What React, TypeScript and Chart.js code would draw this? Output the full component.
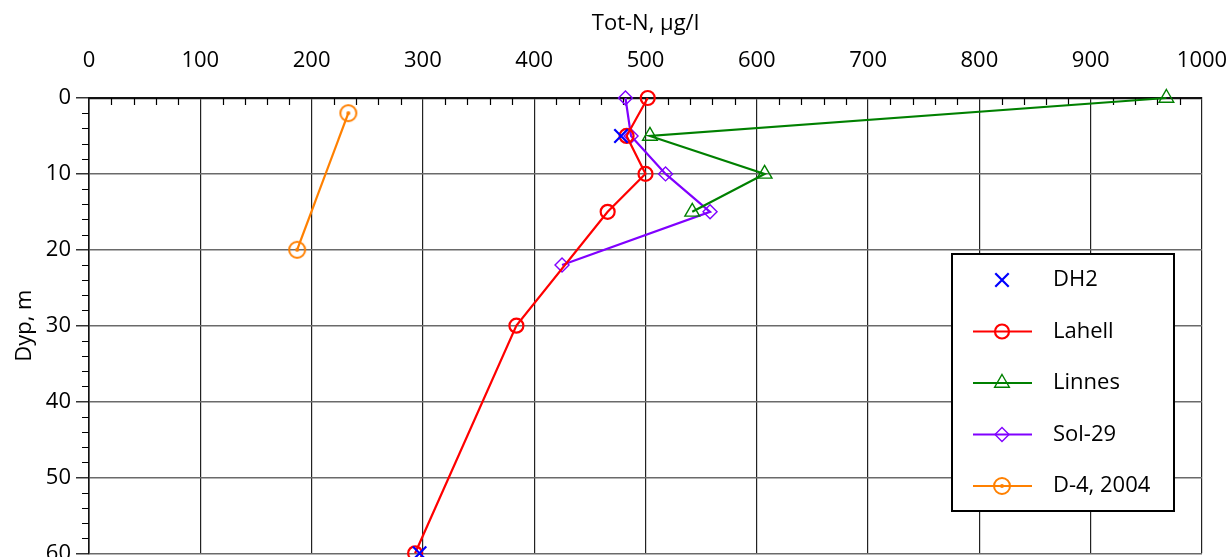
import React, { useEffect, useRef } from "react";
import { Chart, registerables } from "chart.js";
import { drawPoint } from "chart.js/helpers";

Chart.register(...registerables);

// ---- Data ----
const dh2Depth = [5, 60];
const dh2TotN = [478, 297];

const lahellDepth = [0, 5, 10, 15, 30, 60];
const lahellTotN = [502, 483, 500, 466, 384, 293];

const linnesDepth = [0, 5, 10, 15];
const linnesTotN = [968, 504, 607, 542];

const sol29Depth = [0, 5, 10, 15, 22];
const sol29TotN = [482, 487, 518, 558, 425];

const d4Depth = [2, 20];
const d4TotN = [233, 187];

const seriesLabels = ["DH2", "Lahell", "Linnes", "Sol-29", "D-4, 2004"];

const xTitle = "Tot-N, µg/l";
const yTitle = "Dyp, m";
const xMin = 0, xMax = 1000, xStep = 100, xMinorStep = 20;
const yMin = 0, yMax = 60, yStep = 10, yMinorStep = 2;

const FONT = "'Open Sans', 'DejaVu Sans', sans-serif";

function pts(xs: number[], ys: number[]) {
  return xs.map((x, i) => ({ x, y: ys[i] }));
}

export default function App() {
  const ref = useRef<HTMLCanvasElement | null>(null);

  useEffect(() => {
    if (!ref.current) return;

    // circle-with-dot marker for D-4
    const mk = document.createElement("canvas");
    mk.width = 22;
    mk.height = 22;
    const mctx = mk.getContext("2d")!;
    mctx.strokeStyle = "#ff8000";
    mctx.fillStyle = "#ff8000";
    mctx.lineWidth = 2;
    mctx.beginPath();
    mctx.arc(11, 11, 8, 0, Math.PI * 2);
    mctx.stroke();
    mctx.beginPath();
    mctx.arc(11, 11, 2, 0, Math.PI * 2);
    mctx.fill();

    const minorTicks = {
      id: "minorTicks",
      beforeDatasetsDraw(chart: any) {
        const { ctx, chartArea } = chart;
        const xs = chart.scales.x;
        const ys = chart.scales.y;
        ctx.save();
        ctx.strokeStyle = "#000";
        ctx.lineWidth = 1.2;
        ctx.beginPath();
        for (let v = xMin; v <= xMax + 1e-9; v += xMinorStep) {
          if (Math.abs(v % xStep) < 1e-9) continue;
          const px = Math.round(xs.getPixelForValue(v)) + 0.5;
          ctx.moveTo(px, chartArea.top);
          ctx.lineTo(px, chartArea.top + 7);
        }
        for (let v = yMin; v <= yMax + 1e-9; v += yMinorStep) {
          if (Math.abs(v % yStep) < 1e-9) continue;
          const py = Math.round(ys.getPixelForValue(v)) + 0.5;
          ctx.moveTo(chartArea.left - 7, py);
          ctx.lineTo(chartArea.left, py);
        }
        ctx.stroke();
        ctx.restore();
      },
    };

    const boxLegend = {
      id: "boxLegend",
      afterDraw(chart: any) {
        const { ctx } = chart;
        const bx = 952, by = 254, bw = 222, bh = 257;
        ctx.save();
        ctx.fillStyle = "#fff";
        ctx.fillRect(bx, by, bw, bh);
        ctx.strokeStyle = "#000";
        ctx.lineWidth = 2;
        ctx.strokeRect(bx, by, bw, bh);
        const y0 = 280, dy = 51.5;
        chart.data.datasets.forEach((ds: any, i: number) => {
          const cy = y0 + i * dy;
          if (ds.showLine) {
            ctx.strokeStyle = ds.borderColor;
            ctx.lineWidth = 2;
            ctx.beginPath();
            ctx.moveTo(973, cy);
            ctx.lineTo(1032, cy);
            ctx.stroke();
          }
          ctx.strokeStyle = ds.pointBorderColor;
          ctx.fillStyle = "rgba(0,0,0,0)";
          ctx.lineWidth = ds.pointBorderWidth;
          drawPoint(
            ctx,
            {
              pointStyle: ds.pointStyle,
              radius: ds.pointRadius,
              rotation: 0,
              borderWidth: ds.pointBorderWidth,
            } as any,
            1002,
            cy
          );
          ctx.fillStyle = "#000";
          ctx.font = `22px ${FONT}`;
          ctx.textAlign = "left";
          ctx.textBaseline = "middle";
          ctx.fillText(ds.label, 1053, cy);
        });
        ctx.restore();
      },
    };

    const chart = new Chart(ref.current, {
      type: "scatter",
      data: {
        datasets: [
          {
            label: seriesLabels[0],
            data: pts(dh2TotN, dh2Depth),
            showLine: false,
            pointStyle: "crossRot",
            pointRadius: 9.5,
            pointBorderWidth: 2.2,
            pointBorderColor: "#0000ff",
            borderColor: "#0000ff",
            pointBackgroundColor: "rgba(0,0,0,0)",
            clip: false,
          } as any,
          {
            label: seriesLabels[1],
            data: pts(lahellTotN, lahellDepth),
            showLine: true,
            borderColor: "#ff0000",
            borderWidth: 2.2,
            pointStyle: "circle",
            pointRadius: 7,
            pointBorderWidth: 2.2,
            pointBorderColor: "#ff0000",
            pointBackgroundColor: "rgba(0,0,0,0)",
            clip: false,
          },
          {
            label: seriesLabels[2],
            data: pts(linnesTotN, linnesDepth),
            showLine: true,
            borderColor: "#008000",
            borderWidth: 2.2,
            pointStyle: "triangle",
            pointRadius: 8.5,
            pointBorderWidth: 1.4,
            pointBorderColor: "#008000",
            pointBackgroundColor: "rgba(0,0,0,0)",
            clip: false,
          },
          {
            label: seriesLabels[3],
            data: pts(sol29TotN, sol29Depth),
            showLine: true,
            borderColor: "#8000ff",
            borderWidth: 2.2,
            pointStyle: "rectRot",
            pointRadius: 7,
            pointBorderWidth: 1.4,
            pointBorderColor: "#8000ff",
            pointBackgroundColor: "rgba(0,0,0,0)",
            clip: false,
          },
          {
            label: seriesLabels[4],
            data: pts(d4TotN, d4Depth),
            showLine: true,
            borderColor: "#ff8000",
            borderWidth: 2.2,
            pointStyle: mk,
            pointRadius: 8,
            pointBorderWidth: 2,
            pointBorderColor: "#ff8000",
            pointBackgroundColor: "rgba(0,0,0,0)",
            clip: false,
          } as any,
        ],
      },
      options: {
        responsive: false,
        animation: false,
        devicePixelRatio: 1,
        layout: { padding: { left: 0, top: 0, right: 26, bottom: 3 } },
        plugins: { legend: { display: false }, tooltip: { enabled: false } },
        font: { family: FONT, size: 22 },
        scales: {
          x: {
            type: "linear",
            position: "top",
            min: xMin,
            max: xMax,
            afterFit(scale: any) {
              scale.height = 98;
              scale.paddingLeft = 0;
              scale.paddingRight = 0;
            },
            ticks: {
              stepSize: xStep,
              color: "#000",
              padding: 24,
              font: { family: FONT, size: 22 },
              callback: (v: any) => String(v),
            },
            grid: { color: "#222", lineWidth: 1.2, drawTicks: false },
            border: { display: true, color: "#111", width: 2.2 },
            title: {
              display: true,
              text: xTitle,
              color: "#000",
              font: { family: FONT, size: 22 },
              padding: { top: 11, bottom: 0 },
            },
          },
          y: {
            type: "linear",
            position: "left",
            reverse: true,
            min: yMin,
            max: yMax,
            afterFit(scale: any) {
              scale.width = 89;
              scale.paddingTop = 0;
              scale.paddingBottom = 0;
            },
            ticks: {
              stepSize: yStep,
              color: "#000",
              padding: 5,
              font: { family: FONT, size: 22 },
              callback: (v: any) => String(v),
            },
            grid: {
              color: "#6a6a6a",
              lineWidth: 1.6,
              drawTicks: true,
              tickLength: 13,
              tickColor: "#000",
              tickWidth: 1.2,
            },
            border: { display: true, color: "#111", width: 1.6 },
            title: {
              display: true,
              text: yTitle,
              color: "#000",
              font: { family: FONT, size: 22 },
              padding: { top: 12, bottom: 0 },
            },
          },
        },
      } as any,
      plugins: [minorTicks, boxLegend],
    });

    return () => chart.destroy();
  }, []);

  return (
    <div
      style={{
        position: "absolute",
        left: 0,
        top: 0,
        width: 1228,
        height: 557,
        overflow: "hidden",
        background: "#fff",
      }}
    >
      <canvas ref={ref} width={1228} height={565} style={{ display: "block" }} />
    </div>
  );
}
